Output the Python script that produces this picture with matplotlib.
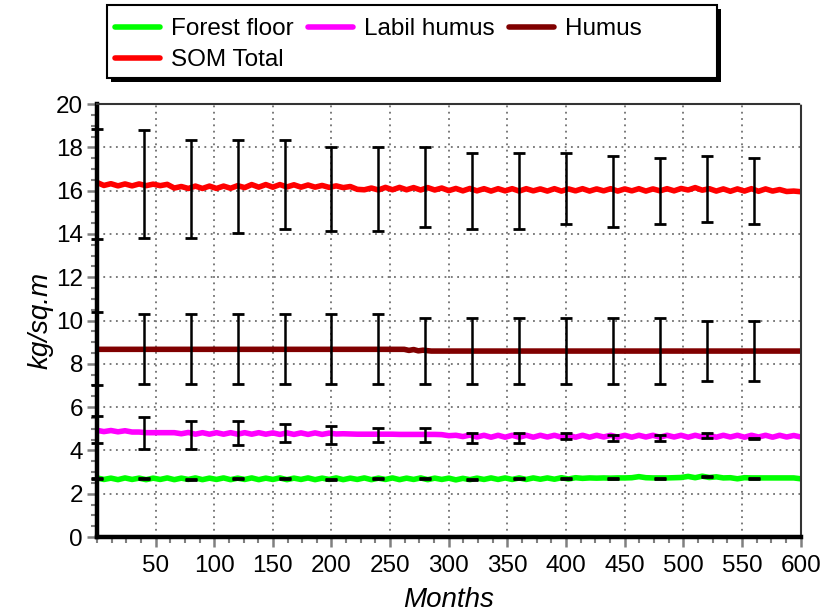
import matplotlib
matplotlib.use("Agg")
import matplotlib.pyplot as plt
from matplotlib.ticker import MultipleLocator
from matplotlib.patches import Rectangle
import numpy as np

plt.rcParams['font.family'] = ['Liberation Sans', 'DejaVu Sans']

# half-year sampled series (months 0, 6, ..., 600)
months = list(range(0, 601, 6))

forest_floor = [2.73, 2.66, 2.72, 2.65, 2.73, 2.66, 2.72, 2.65, 2.72, 2.66,
                2.73, 2.65, 2.72, 2.66, 2.73, 2.65, 2.72, 2.66, 2.73, 2.65,
                2.72, 2.66, 2.73, 2.65, 2.72, 2.66, 2.73, 2.65, 2.72, 2.66,
                2.73, 2.65, 2.72, 2.66, 2.73, 2.65, 2.72, 2.66, 2.73, 2.65,
                2.72, 2.66, 2.73, 2.65, 2.72, 2.66, 2.73, 2.65, 2.72, 2.66,
                2.72, 2.64, 2.71, 2.65, 2.72, 2.66, 2.73, 2.66, 2.73, 2.66,
                2.73, 2.66, 2.73, 2.67, 2.73, 2.67, 2.74, 2.68, 2.74, 2.71,
                2.73, 2.72, 2.73, 2.72, 2.73, 2.73, 2.74, 2.79, 2.74, 2.73,
                2.73, 2.73, 2.74, 2.75, 2.80, 2.74, 2.81, 2.75, 2.78, 2.73,
                2.74, 2.69, 2.74, 2.73, 2.73, 2.73, 2.73, 2.73, 2.73, 2.73,
                2.69]

labil_humus = [4.93, 4.87, 4.92, 4.86, 4.91, 4.85, 4.85, 4.82, 4.82, 4.82,
               4.82, 4.82, 4.77, 4.83, 4.75, 4.82, 4.75, 4.82, 4.75, 4.82,
               4.75, 4.82, 4.75, 4.82, 4.75, 4.81, 4.74, 4.81, 4.74, 4.81,
               4.74, 4.81, 4.74, 4.80, 4.76, 4.77, 4.76, 4.75, 4.75, 4.75,
               4.75, 4.75, 4.75, 4.74, 4.74, 4.74, 4.74, 4.74, 4.74, 4.73,
               4.68, 4.70, 4.64, 4.71, 4.62, 4.70, 4.61, 4.70, 4.61, 4.70,
               4.61, 4.70, 4.61, 4.70, 4.62, 4.70, 4.61, 4.70, 4.61, 4.70,
               4.61, 4.70, 4.62, 4.70, 4.61, 4.70, 4.61, 4.70, 4.62, 4.70,
               4.61, 4.70, 4.62, 4.70, 4.61, 4.70, 4.62, 4.70, 4.61, 4.70,
               4.62, 4.70, 4.61, 4.70, 4.62, 4.70, 4.61, 4.70, 4.62, 4.69,
               4.62]

som_total = [16.38, 16.24, 16.32, 16.22, 16.31, 16.22, 16.31, 16.23, 16.30, 16.23,
             16.29, 16.12, 16.19, 16.10, 16.21, 16.10, 16.21, 16.10, 16.21, 16.11,
             16.23, 16.14, 16.28, 16.16, 16.28, 16.16, 16.28, 16.17, 16.27, 16.16,
             16.26, 16.16, 16.24, 16.15, 16.22, 16.14, 16.19, 16.06, 16.04, 16.12,
             16.03, 16.15, 16.04, 16.15, 16.04, 16.14, 16.03, 16.14, 16.03, 16.12,
             16.00, 16.10, 15.99, 16.10, 15.99, 16.09, 15.98, 16.09, 15.99, 16.09,
             15.98, 16.09, 15.99, 16.08, 15.98, 16.09, 15.98, 16.08, 15.99, 16.09,
             15.98, 16.08, 15.99, 16.09, 15.98, 16.08, 15.99, 16.09, 15.98, 16.08,
             15.99, 16.09, 15.99, 16.10, 16.03, 16.14, 16.02, 16.09, 15.98, 16.08,
             15.97, 16.08, 15.98, 16.09, 15.97, 16.08, 15.98, 16.05, 15.96, 15.98,
             15.95]

# humus is flat apart from a small step near month 270
humus_months = [0, 262, 266, 270, 274, 278, 285, 600]
humus = [8.67, 8.67, 8.62, 8.66, 8.60, 8.63, 8.59, 8.59]

# error bars (low / high) every 40 months
bar_months = [0, 40, 80, 120, 160, 200, 240, 280, 320, 360, 400, 440, 480, 520, 560]
som_lo = [13.75, 13.8, 13.8, 14.03, 14.23, 14.13, 14.13, 14.33, 14.23, 14.23, 14.44, 14.33, 14.44, 14.55, 14.44]
som_hi = [18.85, 18.8, 18.34, 18.34, 18.34, 18.03, 18.03, 18.03, 17.72, 17.72, 17.72, 17.6, 17.49, 17.6, 17.49]
humus_lo = [7.0, 7.07, 7.07, 7.07, 7.07, 7.07, 7.07, 7.07, 7.07, 7.07, 7.07, 7.07, 7.07, 7.19, 7.19]
humus_hi = [10.4, 10.3, 10.3, 10.3, 10.3, 10.3, 10.3, 10.12, 10.1, 10.1, 10.1, 10.1, 10.1, 9.99, 9.99]
labil_lo = [4.35, 4.05, 4.05, 4.26, 4.37, 4.28, 4.37, 4.37, 4.36, 4.36, 4.54, 4.45, 4.45, 4.57, 4.55]
labil_hi = [5.6, 5.53, 5.34, 5.34, 5.22, 5.13, 5.03, 5.03, 4.80, 4.80, 4.82, 4.70, 4.70, 4.82, 4.57]
forest_lo = [2.68, 2.70, 2.63, 2.70, 2.70, 2.63, 2.70, 2.70, 2.63, 2.70, 2.70, 2.70, 2.70, 2.78, 2.70]
forest_hi = [2.72, 2.74, 2.67, 2.74, 2.74, 2.67, 2.74, 2.74, 2.67, 2.74, 2.74, 2.74, 2.74, 2.82, 2.74]

fig = plt.figure(figsize=(8.35, 6.12), dpi=100)
ax = fig.add_axes([0.116, 0.1225, 0.843, 0.7075])

kw = dict(lw=4, solid_capstyle='round')
l_ff, = ax.plot(months, forest_floor, color='#00ff00', label='Forest floor', **kw)
l_lh, = ax.plot(months, labil_humus, color='#ff00ff', label='Labil humus', **kw)
l_hu, = ax.plot(humus_months, humus, color='#800000', label='Humus', **kw)
l_som, = ax.plot(months, som_total, color='#ff0000', label='SOM Total', **kw)

for lo, hi in [(som_lo, som_hi), (humus_lo, humus_hi), (labil_lo, labil_hi), (forest_lo, forest_hi)]:
    lo = np.array(lo)
    hi = np.array(hi)
    mid = (lo + hi) / 2
    ax.errorbar(bar_months, mid, yerr=[mid - lo, hi - mid], fmt='none', ecolor='black',
                elinewidth=1.8, capsize=4.5, capthick=2, clip_on=False, zorder=5)

ax.set_xlim(0, 600)
ax.set_ylim(0, 20)
ax.set_xticks(range(50, 601, 50))
ax.set_yticks(range(0, 21, 2))
ax.xaxis.set_minor_locator(MultipleLocator(12.5))
ax.yaxis.set_minor_locator(MultipleLocator(0.5))
ax.tick_params(which='major', length=7, width=1.8, color='#808080', labelsize=17.5, pad=3)
ax.tick_params(axis='x', which='major', pad=6)
ax.tick_params(which='minor', length=4, width=1.5, color='#808080')
ax.grid(True, which='major', linestyle=(0, (1, 2.5)), color='#707070', lw=1.3)

for side in ['left', 'bottom']:
    ax.spines[side].set_linewidth(3.2)
    ax.spines[side].set_color('black')
for side in ['top', 'right']:
    ax.spines[side].set_linewidth(1.5)
    ax.spines[side].set_linestyle((0, (1, 1)))
    ax.spines[side].set_color('#333333')

ax.set_xlabel('Months', fontsize=20, style='italic', labelpad=7)
ax.set_ylabel('kg/sq.m', fontsize=20, style='italic', labelpad=2)

# legend box with a hard black shadow, drawn separately so it can be wider than the entries
W, H = 835.0, 612.0
shadow = Rectangle((111 / W, 1 - 82 / H), 610 / W, 73 / H, transform=fig.transFigure,
                   facecolor='black', edgecolor='black', lw=0)
box = Rectangle((107 / W, 1 - 78 / H), 610 / W, 73 / H, transform=fig.transFigure,
                facecolor='white', edgecolor='black', lw=1.5)
fig.patches.extend([shadow, box])

leg = fig.legend([l_ff, l_som, l_lh, l_hu], ['Forest floor', 'SOM Total', 'Labil humus', 'Humus'],
                 ncol=3, loc='upper left', bbox_to_anchor=(109 / W, 1 - 12 / H), fontsize=17.5,
                 frameon=False, handlelength=1.85, handletextpad=0.45, columnspacing=0.6,
                 labelspacing=0.38, borderpad=0.25, borderaxespad=0)

fig.savefig('out.png', dpi=100)
